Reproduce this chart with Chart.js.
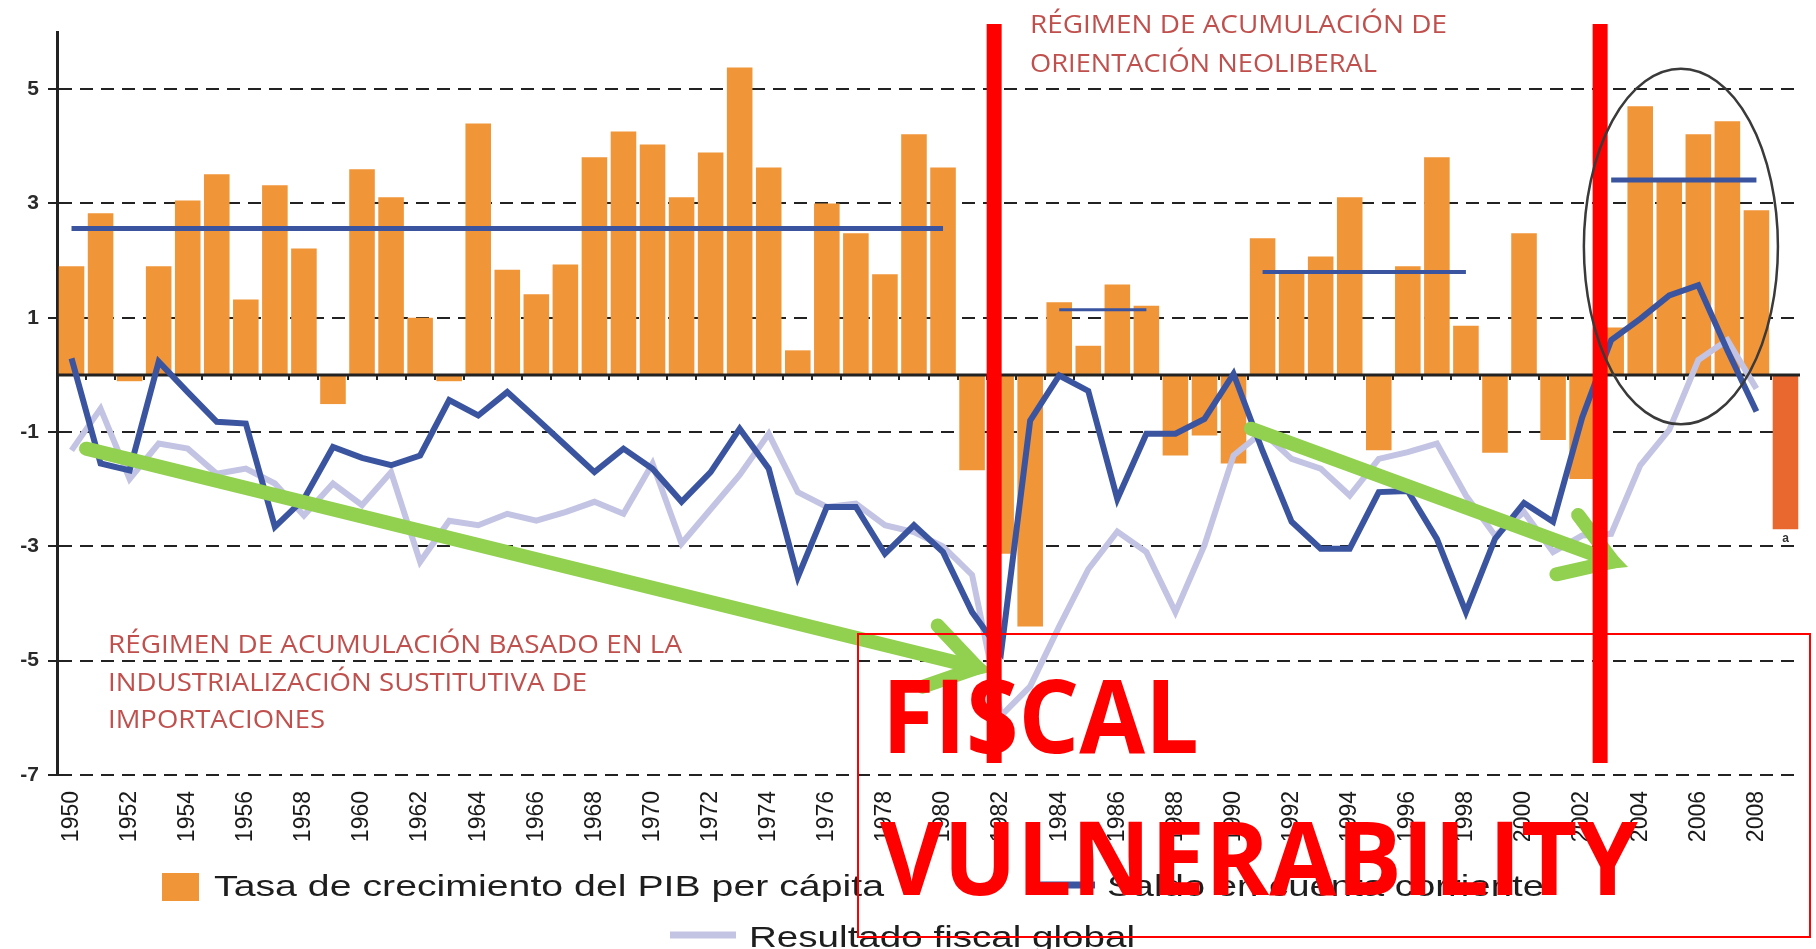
<!DOCTYPE html>
<html>
<head>
<meta charset="utf-8">
<script src="https://cdn.jsdelivr.net/npm/chart.js@4.4.1/dist/chart.umd.min.js"></script>
<style>
  html, body { margin: 0; padding: 0; background: #fff; overflow: hidden; }
  canvas { display: block; }
</style>
</head>
<body>
<canvas id="chart" width="1816" height="949"></canvas>
<script>
// años del eje x
const categorias = ['1950','1951','1952','1953','1954','1955','1956','1957','1958','1959',
  '1960','1961','1962','1963','1964','1965','1966','1967','1968','1969',
  '1970','1971','1972','1973','1974','1975','1976','1977','1978','1979',
  '1980','1981','1982','1983','1984','1985','1986','1987','1988','1989',
  '1990','1991','1992','1993','1994','1995','1996','1997','1998','1999',
  '2000','2001','2002','2003','2004','2005','2006','2007','2008','2009'];
const etiquetasEje = ['1950','1952','1954','1956','1958','1960','1962','1964','1966','1968',
  '1970','1972','1974','1976','1978','1980','1982','1984','1986','1988',
  '1990','1992','1994','1996','1998','2000','2002','2004','2006','2008'];
const ticksY = [-7, -5, -3, -1, 1, 3, 5];

// Tasa de crecimiento del PIB per cápita
const pibPerCapita = [1.90, 2.83, -0.11, 1.90, 3.05, 3.51, 1.32, 3.32, 2.21, -0.51,
  3.60, 3.11, 1.00, -0.11, 4.40, 1.84, 1.41, 1.93, 3.81, 4.26,
  4.03, 3.11, 3.89, 5.38, 3.63, 0.43, 3.00, 2.48, 1.76, 4.21,
  3.63, -1.67, -3.13, -4.40, 1.27, 0.51, 1.58, 1.21, -1.41, -1.06,
  -1.55, 2.39, 1.80, 2.07, 3.11, -1.32, 1.90, 3.81, 0.86, -1.36,
  2.48, -1.14, -1.82, 0.83, 4.70, 3.41, 4.21, 4.44, 2.88, -2.70];

// Saldo en cuenta corriente
const saldoCuentaCorriente = [0.29, -1.55, -1.67, 0.23, -0.30, -0.82, -0.85, -2.66, -2.17, -1.26,
  -1.45, -1.58, -1.41, -0.44, -0.71, -0.30, -0.76, -1.23, -1.70, -1.29,
  -1.64, -2.22, -1.70, -0.94, -1.64, -3.54, -2.31, -2.31, -3.13, -2.63,
  -3.10, -4.15, -4.85, -0.80, -0.01, -0.28, -2.17, -1.03, -1.03, -0.77,
  0.02, -1.33, -2.57, -3.04, -3.04, -2.05, -2.03, -2.87, -4.15, -2.87,
  -2.24, -2.57, -0.75, 0.61, 0.98, 1.39, 1.57, 0.43, -0.64, null];

// Resultado fiscal global
const resultadoFiscal = [-1.32, -0.59, -1.82, -1.20, -1.29, -1.73, -1.64, -1.90, -2.46, -1.90,
  -2.28, -1.70, -3.27, -2.55, -2.63, -2.43, -2.55, -2.40, -2.22, -2.43,
  -1.55, -2.95, -2.35, -1.75, -1.03, -2.05, -2.31, -2.25, -2.63, -2.75,
  -3.00, -3.50, -5.96, -5.45, -4.40, -3.40, -2.74, -3.10, -4.15, -2.98,
  -1.41, -1.00, -1.47, -1.64, -2.11, -1.47, -1.35, -1.20, -2.11, -2.81,
  -2.40, -3.10, -2.81, -2.78, -1.58, -0.96, 0.26, 0.61, -0.24, null];

// promedios de crecimiento por periodo
const promedioPeriodo = [
  { desde: '1950', hasta: '1980', valor: 2.56, grosor: 5 },
  { desde: '1984', hasta: '1987', valor: 1.14, grosor: 3 },
  { desde: '1991', hasta: '1998', valor: 1.80, grosor: 4 },
  { desde: '2003', hasta: '2008', valor: 3.41, grosor: 5 }
];

const NARANJA = '#f09538';
const AZUL = '#3a54a0';
const LILA = '#c3c3e4';
const VERDE = '#92d050';
const ROJO = '#ff0000';

Chart.defaults.font.family = '"Liberation Sans", Arial, sans-serif';

const idx = anio => anio - 1950;

function fitText(ctx, text, x, base, width, font, color) {
  ctx.save();
  ctx.font = font;
  ctx.fillStyle = color;
  ctx.textAlign = 'left';
  ctx.textBaseline = 'alphabetic';
  const w = ctx.measureText(text).width;
  ctx.translate(x, base);
  ctx.scale(width / w, 1);
  ctx.fillText(text, 0, 0);
  ctx.restore();
}

function flecha(ctx, x1, y1, x2, y2) {
  const ang = Math.atan2(y2 - y1, x2 - x1);
  const ux = Math.cos(ang), uy = Math.sin(ang);
  const L = 72, ab = 26 * Math.PI / 180, lw = 14;
  const back = (lw / 2) / Math.sin(ab);
  const tx = x2 - back * ux, ty = y2 - back * uy;
  const b1 = [x2 - L * Math.cos(ang - ab), y2 - L * Math.sin(ang - ab)];
  const b2 = [x2 - L * Math.cos(ang + ab), y2 - L * Math.sin(ang + ab)];
  ctx.save();
  ctx.strokeStyle = VERDE;
  ctx.fillStyle = VERDE;
  ctx.lineWidth = lw;
  ctx.lineCap = 'round';
  ctx.beginPath();
  ctx.moveTo(x1, y1);
  ctx.lineTo(x2 - 30 * ux, y2 - 30 * uy);
  ctx.stroke();
  ctx.lineJoin = 'miter';
  ctx.miterLimit = 10;
  ctx.beginPath();
  ctx.moveTo(b1[0], b1[1]);
  ctx.lineTo(tx, ty);
  ctx.lineTo(b2[0], b2[1]);
  ctx.stroke();
  ctx.beginPath();
  ctx.moveTo(x2, y2);
  ctx.lineTo(x2 - 0.7 * L * Math.cos(ang - ab), y2 - 0.7 * L * Math.sin(ang - ab));
  ctx.lineTo(x2 - 0.45 * L * ux, y2 - 0.45 * L * uy);
  ctx.lineTo(x2 - 0.7 * L * Math.cos(ang + ab), y2 - 0.7 * L * Math.sin(ang + ab));
  ctx.closePath();
  ctx.fill();
  ctx.restore();
}

const overlay = {
  id: 'overlay',
  afterDatasetDraw(chart, args) {
    if (args.index !== 0) return;
    const { ctx, chartArea: a, scales: { x, y } } = chart;
    const y0 = y.getPixelForValue(0);
    ctx.save();
    ctx.strokeStyle = '#222';
    ctx.lineWidth = 3;
    ctx.beginPath();
    ctx.moveTo(a.left, y0);
    ctx.lineTo(a.right, y0);
    ctx.stroke();
    ctx.lineWidth = 2;
    for (let i = 0; i < categorias.length - 1; i++) {
      const px = Math.round(x.getPixelForValue(i + 0.5));
      ctx.beginPath();
      ctx.moveTo(px, y0);
      ctx.lineTo(px, y0 + 5);
      ctx.stroke();
    }
    ctx.restore();
  },
  afterDraw(chart) {
    const { ctx, scales: { x, y } } = chart;
    const X = anio => x.getPixelForValue(idx(anio));
    const Y = v => y.getPixelForValue(v);

    // leyenda
    ctx.save();
    ctx.fillStyle = NARANJA;
    ctx.fillRect(162, 873, 37, 28);
    ctx.lineWidth = 7;
    ctx.strokeStyle = AZUL;
    ctx.beginPath(); ctx.moveTo(1030, 885); ctx.lineTo(1095, 885); ctx.stroke();
    ctx.strokeStyle = LILA;
    ctx.beginPath(); ctx.moveTo(670, 935); ctx.lineTo(736, 935); ctx.stroke();
    ctx.restore();
    const fLey = '29px "Liberation Sans", Arial, sans-serif';
    fitText(ctx, 'Tasa de crecimiento del PIB per cápita', 214, 896, 670, fLey, '#1e1e1e');
    fitText(ctx, 'Saldo en cuenta corriente', 1107, 896, 437, fLey, '#1e1e1e');
    fitText(ctx, 'Resultado fiscal global', 749, 947, 386, fLey, '#1e1e1e');

    // nota "a"
    ctx.save();
    ctx.font = 'bold 12px "Liberation Sans", Arial';
    ctx.fillStyle = '#333';
    ctx.textAlign = 'center';
    ctx.textBaseline = 'middle';
    ctx.fillText('a', X(2009), Y(-2.87));
    ctx.restore();

    // textos de regímenes
    const fReg = '25px "Open Sans", "Liberation Sans", sans-serif';
    const cReg = '#c0504d';
    fitText(ctx, 'RÉGIMEN DE ACUMULACIÓN DE', 1030, 33, 417, fReg, cReg);
    fitText(ctx, 'ORIENTACIÓN NEOLIBERAL', 1030, 72, 347, fReg, cReg);
    fitText(ctx, 'RÉGIMEN DE ACUMULACIÓN BASADO EN LA', 108, 653, 574, fReg, cReg);
    fitText(ctx, 'INDUSTRIALIZACIÓN SUSTITUTIVA DE', 108, 691, 479, fReg, cReg);
    fitText(ctx, 'IMPORTACIONES', 108, 728, 217, fReg, cReg);

    // flechas verdes
    flecha(ctx, X(1950.5), Y(-1.29), X(1981.72), Y(-5.19));
    flecha(ctx, X(1990.6), Y(-0.94), X(2003.58), Y(-3.36));

    // líneas rojas de cambio de régimen
    ctx.save();
    ctx.strokeStyle = ROJO;
    ctx.lineWidth = 15;
    [1981.76, 2002.62].forEach(a => {
      ctx.beginPath();
      ctx.moveTo(X(a), Y(6.14));
      ctx.lineTo(X(a), Y(-6.79));
      ctx.stroke();
    });
    ctx.restore();

    // elipse
    ctx.save();
    ctx.strokeStyle = '#3a3a3a';
    ctx.lineWidth = 2.5;
    const cx = X(2005.4), cy = Y(2.245);
    ctx.beginPath();
    ctx.ellipse(cx, cy, X(2005.4 + 3.34) - cx, Y(2.245 - 3.11) - cy, 0, 0, Math.PI * 2);
    ctx.stroke();
    ctx.restore();

    // texto grande
    const fBig = 'bold 103px "Open Sans", "Liberation Sans", sans-serif';
    fitText(ctx, 'FISCAL', 882, 753, 317, fBig, ROJO);
    fitText(ctx, 'VULNERABILITY', 880, 895, 758, fBig, ROJO);

    // recuadro
    ctx.save();
    ctx.strokeStyle = ROJO;
    ctx.lineWidth = 2;
    ctx.strokeRect(858, 634, 952, 303);
    ctx.restore();
  }
};

const datasets = [
  {
    type: 'bar',
    label: 'Tasa de crecimiento del PIB per cápita',
    data: pibPerCapita,
    backgroundColor: categorias.map(c => c === '2009' ? '#e86830' : NARANJA),
    borderWidth: 0,
    barPercentage: 0.88,
    categoryPercentage: 1.0,
    order: 4
  },
  {
    type: 'line',
    label: 'Resultado fiscal global',
    data: resultadoFiscal,
    borderColor: LILA,
    borderWidth: 6,
    pointRadius: 0,
    tension: 0,
    fill: false,
    order: 2
  },
  {
    type: 'line',
    label: 'Saldo en cuenta corriente',
    data: saldoCuentaCorriente,
    borderColor: AZUL,
    borderWidth: 6,
    pointRadius: 0,
    tension: 0,
    fill: false,
    order: 1
  }
];

promedioPeriodo.forEach(p => {
  const i0 = categorias.indexOf(p.desde), i1 = categorias.indexOf(p.hasta);
  datasets.push({
    type: 'line',
    label: 'Promedio ' + p.desde + '-' + p.hasta,
    data: categorias.map((c, i) => (i >= i0 && i <= i1) ? p.valor : null),
    borderColor: AZUL,
    borderWidth: p.grosor,
    pointRadius: 0,
    tension: 0,
    fill: false,
    borderCapStyle: 'butt',
    order: 3
  });
});

new Chart(document.getElementById('chart'), {
  type: 'bar',
  data: { labels: categorias, datasets: datasets },
  options: {
    responsive: false,
    animation: false,
    events: [],
    layout: { padding: { top: 32, right: 16, bottom: 104, left: 0 } },
    plugins: {
      legend: { display: false },
      tooltip: { enabled: false }
    },
    scales: {
      x: {
        offset: true,
        grid: { display: false, drawTicks: false },
        border: { display: false },
        ticks: {
          autoSkip: false,
          minRotation: 90,
          maxRotation: 90,
          padding: 16,
          color: '#1a1a1a',
          font: { size: 23 },
          callback: function (v, i) {
            const l = categorias[i];
            return etiquetasEje.includes(l) ? l : '';
          }
        },
        afterFit: s => { s.height = 70; s.paddingLeft = 0; s.paddingRight = 0; }
      },
      y: {
        min: -7,
        max: 6,
        ticks: {
          stepSize: 1,
          padding: 9,
          color: '#2a2a2a',
          font: { size: 21, weight: 'bold' },
          callback: v => ticksY.includes(v) ? String(v) : ''
        },
        grid: {
          color: c => ticksY.includes(c.tick.value) ? '#222' : 'rgba(0,0,0,0)',
          tickColor: c => ticksY.includes(c.tick.value) ? '#222' : 'rgba(0,0,0,0)',
          lineWidth: 2,
          tickLength: 9,
          drawTicks: true
        },
        border: { display: true, color: '#222', width: 3, dash: [13, 8] },
        afterFit: s => { s.width = 57; }
      }
    }
  },
  plugins: [overlay]
});
</script>
</body>
</html>
